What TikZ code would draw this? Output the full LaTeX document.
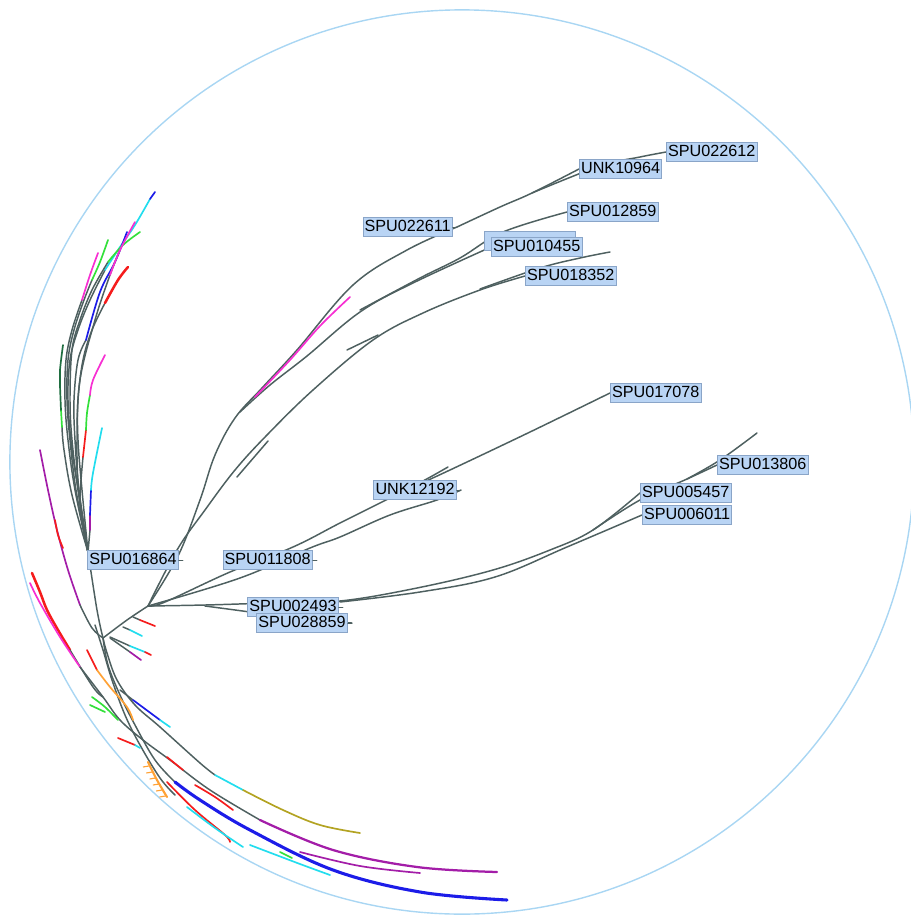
\documentclass[tikz,border=0pt]{standalone}
\usepackage{fontspec}
\setmainfont{Liberation Sans}
\usetikzlibrary{positioning}
\definecolor{treegray}{HTML}{4E6060}
\definecolor{tagfill}{HTML}{B9D4F4}
\definecolor{tagline}{HTML}{8AA5C8}
\definecolor{rimblue}{HTML}{A9D6F3}
\definecolor{lfred}{HTML}{F51C1C}
\definecolor{lfmagenta}{HTML}{F72FD2}
\definecolor{lfpurple}{HTML}{A31DA8}
\definecolor{lfblue}{HTML}{1C1CE8}
\definecolor{lfcyan}{HTML}{22DDEE}
\definecolor{lfgreen}{HTML}{33E03A}
\definecolor{lfdkgreen}{HTML}{1F6E40}
\definecolor{lforange}{HTML}{FFA236}
\definecolor{lfolive}{HTML}{B3A322}
\tikzset{
  edge/.style={draw=treegray, line width=1.05pt, line cap=round},
  leaf/.style={line width=1.2pt, line cap=round},
  tag/.style={fill=tagfill, draw=tagline, line width=0.6pt, inner xsep=1.2pt, inner ysep=2pt,
    text height=8.3pt, text depth=1.5pt, font=\fontsize{11.5}{12}\selectfont},
  rim/.style={draw=rimblue, line width=1pt}
}
\newcommand{\twig}[1]{\draw[edge] plot[smooth, tension=0.6] coordinates {#1};}
\newcommand{\leafseg}[2]{\draw[leaf, #1] plot[smooth, tension=0.6] coordinates {#2};}

\begin{document}
\begin{tikzpicture}[x=0.025cm, y=-0.025cm]
\useasboundingbox (0,0) rectangle (911,916);
% outer ring
\begin{scope}
  \clip (0,0) rectangle (911,916);
  \draw[rim] (462,462) circle[radius=11.3cm];
\end{scope}

% named points
\coordinate (hub) at (148,606);
\coordinate (root) at (103,638);
\coordinate (fork) at (88,552);
\coordinate (t22612) at (666,152);
\coordinate (t10964) at (579,169);
\coordinate (t12859) at (567,212);
\coordinate (t10455) at (491,247);
\coordinate (t18352) at (525,276);
\coordinate (t17078) at (610,393);
\coordinate (t13806) at (717,465);
\coordinate (t05457) at (640,493);
\coordinate (t06011) at (642,515);
\coordinate (t22611) at (457,227);
\coordinate (t16864) at (183,560);
\coordinate (t11808) at (317,560);
\coordinate (t12192) at (461,490);
\coordinate (t02493) at (343,607);
\coordinate (t28859) at (352,623);

% upper clade
\twig{(hub) (178,556) (200,500) (215,455) (235,418) (262,388) (297,350) (353,285) (407,250) (t22611)}
\twig{(t22611) (500,207) (532,193) (t10964)}
\twig{(532,193) (600,166) (640,157) (t22612)}
\twig{(240,412) (270,385) (307,356) (360,312) (413,283) (t10455)}
\twig{(360,310) (420,278) (460,258) (503,232) (t12859)}
\twig{(hub) (177,550) (205,510) (235,470) (267,435) (313,390) (373,340) (423,313) (480,290) (t18352)}
\twig{(480,289) (540,268) (580,258) (610,252)}
\twig{(237,477) (268,441)}
\twig{(347,350) (378,335)}
\leafseg{lfmagenta}{(255,397) (290,360) (320,326) (350,297)}

% middle clade
\twig{(hub) (165,602) (230,572) (293,547) (340,523) (390,498) (423,481) (448,467)}
\twig{(hub) (240,578) (310,548) (340,537) (390,515) (437,500) (t12192)}
\twig{(400,493) (450,470) (530,432) (t17078)}

% lower clade
\twig{(hub) (205,605) (270,603) (340,601) (417,588) (493,570) (550,550) (593,530) (t05457)}
\twig{(593,530) (640,500) (687,479) (t13806)}
\twig{(687,479) (720,460) (757,433)}
\twig{(340,602) (420,592) (495,577) (567,547) (t06011)}
\twig{(205,606) (250,612) (300,619) (t28859)}

% short leaves at the hub
\twig{(hub) (127,620) (root)}
\twig{(133,617) (140,620)}
\leafseg{lfred}{(140,620) (155,626)}
\twig{(123,627) (130,630)}
\leafseg{lfcyan}{(130,630) (142,636)}
\twig{(110,637) (130,646)}
\leafseg{lfcyan}{(130,646) (145,652)}
\leafseg{lfred}{(145,652) (151,655)}
\twig{(110,638) (130,652)}
\leafseg{lfpurple}{(130,652) (141,660)}

% trunk up to the upper bundle
\twig{(root) (97,610) (fork)}

% upper bundle
\twig{(fork) (80,500) (72,450) (68,400) (70,360) (78,330) (90,300) (105,270)}
\leafseg{lfcyan}{(105,270) (120,247) (135,225) (150,199)}
\leafseg{lfblue}{(150,199) (155,192)}
\twig{(fork) (82,490) (78,440) (78,400) (83,360) (92,330) (105,303)}
\leafseg{lfred, line width=1.8pt}{(105,303) (118,280) (128,267)}
\twig{(fork) (79,490) (75,440) (74,400) (78,360) (86,340)}
\leafseg{lfblue}{(86,340) (100,292) (115,262) (127,232)}
\twig{(fork) (78,490) (72,440) (70,400) (72,350) (80,320) (92,290) (108,262)}
\leafseg{lfgreen}{(108,262) (123,245) (140,232)}
\twig{(fork) (76,490) (70,440) (67,400) (68,360) (74,330) (84,300) (92,280)}
\leafseg{lfgreen}{(92,280) (100,262) (108,240)}
\twig{(fork) (75,490) (68,440) (65,400) (66,360) (72,330) (82,300)}
\leafseg{lfmagenta}{(82,300) (90,275) (98,253)}
\twig{(fork) (79,495) (77,440) (80,380) (95,320) (110,275) (120,250)}
\leafseg{lfmagenta}{(110,275) (120,250) (135,222)}
\twig{(fork) (72,495) (64,450) (62,427)}
\leafseg{lfgreen}{(62,427) (61,410)}
\leafseg{lfdkgreen}{(61,410) (60,385) (60,370) (63,345)}
\twig{(fork) (82,520) (80,497) (83,457)}
\leafseg{lfred}{(83,457) (86,430)}
\leafseg{lfgreen}{(86,430) (87,413) (90,395)}
\leafseg{lfmagenta}{(90,395) (93,380) (105,355)}
\twig{(fork) (90,530)}
\leafseg{lfpurple}{(90,530) (90,515)}
\leafseg{lfblue}{(90,515) (91,490)}
\leafseg{lfcyan}{(91,490) (93,473) (102,428)}
\leafseg{lfpurple}{(40,450) (48,490) (57,530) (68,570) (80,605)}
\leafseg{lfred}{(55,520) (58,535) (63,548)}
\twig{(80,605) (92,628) (root)}

% lower bundle
\twig{(root) (108,665) (120,695) (135,725) (155,760) (175,782)}
\leafseg{lfblue, line width=2.2pt}{(175,782) (200,800) (250,830) (333,870) (420,892) (507,900)}
\leafseg{lfred, line width=1.8pt}{(32,573) (40,592) (47,610) (58,630) (70,650)}
\twig{(70,650) (93,687) (103,697)}
\leafseg{lfmagenta}{(30,583) (40,603) (60,637) (80,667)}
\twig{(80,667) (103,697) (120,720) (143,740) (170,760) (210,790) (260,820)}
\leafseg{lfpurple, line width=1.6pt}{(260,820) (333,850) (417,867) (497,872)}
\leafseg{lfpurple}{(300,852) (360,866) (420,873)}
\twig{(root) (107,653) (117,680) (135,705) (160,727) (200,763) (215,775)}
\leafseg{lfcyan}{(215,775) (243,790)}
\leafseg{lfolive}{(243,790) (283,810) (320,825) (360,833)}
\twig{(95,625) (103,650) (112,680) (125,715) (140,745) (160,778) (175,795)}
\leafseg{lfred}{(167,782) (195,810) (225,835) (230,842)}
\leafseg{lfcyan}{(187,807) (215,828) (243,847)}
\leafseg{lfcyan}{(250,845) (300,864) (330,875)}
\leafseg{lfred}{(195,785) (215,797) (233,810)}
\leafseg{lfred}{(167,757) (183,770)}
\leafseg{lfgreen}{(280,852) (292,858)}
\twig{(120,690) (133,700)}
\leafseg{lfblue}{(133,700) (160,720)}
\leafseg{lfcyan}{(160,720) (170,727)}
\leafseg{lfgreen}{(92,697) (105,707) (118,720)}
\leafseg{lfgreen}{(90,705) (105,712)}
\leafseg{lfred}{(87,650) (97,670)}
\leafseg{lforange}{(97,670) (110,687) (127,707) (133,720)}
\leafseg{lfred}{(118,738) (135,745)}
\leafseg{lfcyan}{(135,745) (140,748)}
\leafseg{lforange, line width=1.5pt}{(148,762) (157,780) (167,797)}
\foreach \k in {0,...,5}
  \draw[lforange, line width=0.8pt] ({149+\k*3.3},{766+\k*6}) -- ++(-6,1);

% labels
\node[tag, anchor=west] (n22612) at (t22612) {SPU022612};
\node[tag, anchor=west] (n10964) at (t10964) {UNK10964};
\node[tag, anchor=west] (n12859) at (t12859) {SPU012859};
\node[tag, anchor=west] (nhidden) at (484,241) {\phantom{SPU010455}};
\node[tag, anchor=west] (n10455) at (t10455) {SPU010455};
\node[tag, anchor=west] (n18352) at (t18352) {SPU018352};
\node[tag, anchor=west] (n17078) at (t17078) {SPU017078};
\node[tag, anchor=west] (n13806) at (t13806) {SPU013806};
\node[tag, anchor=west] (n05457) at (t05457) {SPU005457};
\node[tag, anchor=west] (n06011) at (t06011) {SPU006011};
\node[tag, left=3pt of t22611] (n22611) {SPU022611};
\node[tag, left=3pt of t16864] (n16864) {SPU016864};
\node[tag, left=3pt of t11808] (n11808) {SPU011808};
\node[tag, left=3pt of t12192] (n12192) {UNK12192};
\node[tag, left=3pt of t02493] (n02493) {SPU002493};
\node[tag, left=3pt of t28859] (n28859) {SPU028859};
\draw[edge, line width=0.5pt] (n22611) -- (t22611);
\draw[edge, line width=0.5pt] (n16864) -- (t16864);
\draw[edge, line width=0.5pt] (n11808) -- (t11808);
\draw[edge, line width=0.5pt] (n12192) -- (t12192);
\draw[edge, line width=0.5pt] (n02493) -- (t02493);
\draw[edge, line width=0.5pt] (n28859) -- (t28859);
\end{tikzpicture}
\end{document}
